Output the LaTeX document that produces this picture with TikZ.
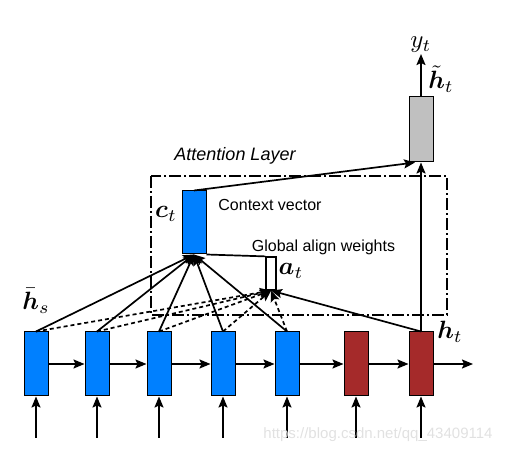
\documentclass[tikz,border=0pt]{standalone}
\usepackage{amsmath}
\usepackage{amssymb}
\usepackage{graphicx}
\usepackage{fontspec}
\setsansfont{Liberation Sans}
\usepackage{tikz}
\usetikzlibrary{arrows.meta}

\definecolor{cellblue}{RGB}{0,128,255}
\definecolor{cellred}{RGB}{165,42,42}
\definecolor{cellgrey}{RGB}{192,192,192}
\definecolor{markgrey}{RGB}{225,225,225}

\newcommand{\biglbl}[1]{\scalebox{2.5}{$#1$}}

\tikzset{
  cell/.style={draw, line width=1pt, minimum width=24pt, minimum height=64pt, inner sep=0pt},
  arr/.style={line width=1.7pt, -{Stealth[length=11pt,width=9pt,inset=2pt]}},
  darr/.style={arr, dash pattern={on 4pt off 3pt}},
  lbl/.style={inner sep=1pt},
  txt/.style={font=\sffamily\fontsize{16}{19}\selectfont}
}

\begin{document}
\begin{tikzpicture}[x=1pt,y=1pt,yscale=-1]
          \useasboundingbox (0,0) rectangle (509,454);

          %Shape: Dash Dot Box
          \draw [line width=1.8pt, dash pattern={on 12pt off 3pt on 2pt off 3pt}] (151,176) rectangle (447,315);

          %Shape: Encoder and Decoder Cells
          \node [cell, fill=cellblue] (h1) at (36,364) {};
          \node [cell, fill=cellblue] (h2) at (97,364) {};
          \node [cell, fill=cellblue] (h3) at (159,364) {};
          \node [cell, fill=cellblue] (h4) at (223,364) {};
          \node [cell, fill=cellblue] (h5) at (287,364) {};
          \node [cell, fill=cellred] (h6) at (356,364) {};
          \node [cell, fill=cellred] (h7) at (421,364) {};
          \coordinate (hout) at (473,364);

          %Shape: Context Cell
          \node [cell, fill=cellblue, minimum height=63pt] (ct) at (194,222.5) {};
          %Shape: Attentional Hidden Cell
          \node [cell, fill=cellgrey, minimum height=65pt] (ht) at (421,129.5) {};
          %Shape: Align Weights
          \node [draw, line width=1.2pt, minimum width=10pt, minimum height=33pt, inner sep=0pt] (at) at (271,273.5) {};

          %Straight Lines: recurrence
          \foreach \a/\b in {h1/h2,h2/h3,h3/h4,h4/h5,h5/h6,h6/h7,h7/hout}
            \draw [arr] (\a.east) -- (\b);
          %Straight Lines: inputs
          \foreach \c in {1,...,7}{
            \coordinate (in\c) at ([yshift=41pt]h\c.south);
            \draw [arr] (in\c) -- (h\c.south);
          }

          %Straight Lines: source states to context and weights
          \foreach \c in {1,...,5}{
            \draw [arr] (h\c.north) -- (ct.south);
            \draw [darr] (h\c.north) -- (at.south);
          }
          \draw [arr] (h7.north) -- (at.south);
          \draw [line width=1.7pt] (at.north west) -- (ct.south east);

          %Straight Lines: to attentional state and output
          \draw [arr] (h7.north) -- (ht.south);
          \draw [arr] (ct.north) -- ([xshift=-6pt]ht.south);
          \node [lbl] (yt) at (421,45) {\biglbl{y_t}};
          \draw [arr] (ht.north) -- (yt.south);

          % Text Node
          \node [lbl] (hs) at (36,301) {\biglbl{\bar{\boldsymbol{h}}_s}};
          % Text Node
          \node [lbl] (htl) at (450,332) {\biglbl{\boldsymbol{h}_t}};
          % Text Node
          \node [lbl] (ctl) at (166,214) {\biglbl{\boldsymbol{c}_t}};
          % Text Node
          \node [lbl] (atl) at (291,271) {\biglbl{\boldsymbol{a}_t}};
          % Text Node
          \node [lbl] (httl) at (441,79) {\biglbl{\tilde{\boldsymbol{h}}_t}};
          % Text Node
          \node [txt] (ctx) at (270,205) {Context vector};
          % Text Node
          \node [txt] (gaw) at (323.5,247) {Global align weights};
          % Text Node
          \node [txt, font=\sffamily\itshape\fontsize{18}{21}\selectfont] (attl) at (235,156) {Attention Layer};
          % Text Node
          \node [txt, text=markgrey, font=\sffamily\fontsize{15}{18}\selectfont] (mark) at (378,435) {https://blog.csdn.net/qq\_43409114};
\end{tikzpicture}
\end{document}
